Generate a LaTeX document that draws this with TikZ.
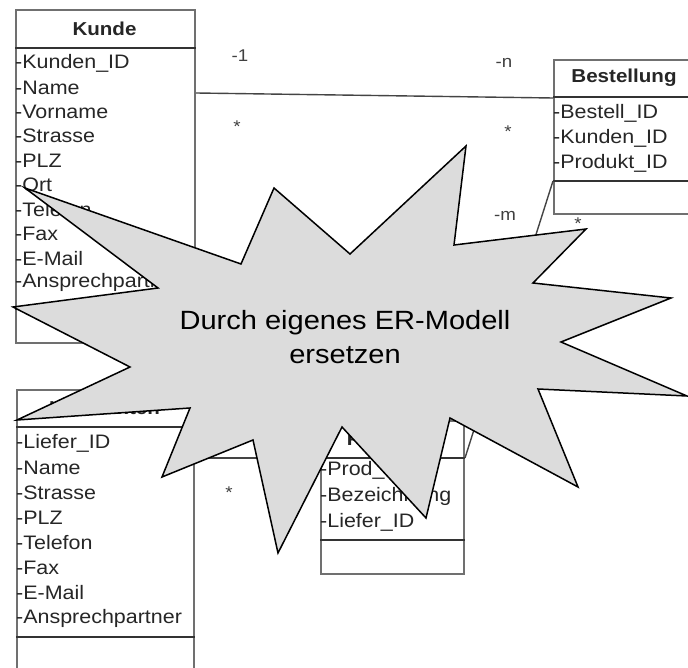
\documentclass[tikz,border=0pt]{standalone}
\usepackage{fontspec}
\setmainfont{Liberation Sans}[FakeStretch=1.1]
\definecolor{boxgray}{HTML}{707070}
\definecolor{sepgray}{HTML}{333333}
\definecolor{txtgray}{HTML}{262626}
\definecolor{multgray}{HTML}{404040}
\definecolor{conngray}{HTML}{444444}
\definecolor{burstfill}{HTML}{DCDCDC}
\begin{document}
\begin{tikzpicture}[x=1pt,y=-1pt,
  box/.style={draw=boxgray, line width=2pt, inner sep=0, anchor=north west},
  sepline/.style={draw=sepgray, line width=1.4pt},
  attr/.style={anchor=west, inner sep=0, text=txtgray, font=\fontsize{19.5}{19.5}\selectfont},
  ctitle/.style={inner sep=0, text=txtgray, font=\fontsize{18.7}{18.7}\selectfont\bfseries},
  mult/.style={inner sep=0, text=multgray, font=\fontsize{17}{17}\selectfont},
  conn/.style={draw=conngray, line width=1.4pt},
  burst/.style={draw=black, line width=1.5pt, fill=burstfill, line join=miter},
  bursttext/.style={inner sep=0, anchor=base, text=black, font=\fontsize{26.4}{33}\selectfont},
]
\useasboundingbox (0,0) rectangle (688,668);
\fill[white] (0,0) rectangle (688,668);
\clip (0,0) rectangle (688,668);

% Kunde
\node[box, minimum width=179pt, minimum height=333pt] (kunde) at (15,9) {};
\draw[sepline] (kunde.west |- 0,48) -- (kunde.east |- 0,48);
\draw[sepline] (kunde.west |- 0,309) -- (kunde.east |- 0,309);
\node[ctitle] (kundeT) at (104.5,28.5) {Kunde};
\foreach \t [count=\i from 0] in {Kunden\_ID,Name,Vorname,Strasse,PLZ,Ort,Telefon,Fax,E-Mail,Ansprechpartner}
  \node[attr] (ka\i) at (15,{63+24.4*\i}) {-\t};

% Bestellung
\node[box, minimum width=142pt, minimum height=154pt] (best) at (553,59) {};
\draw[sepline] (best.west |- 0,97) -- (best.east |- 0,97);
\draw[sepline] (best.west |- 0,181) -- (best.east |- 0,181);
\node[ctitle] (bestT) at (624,78) {Bestellung};
\foreach \t [count=\i from 0] in {Bestell\_ID,Kunden\_ID,Produkt\_ID}
  \node[attr] (ba\i) at (553,{113+25*\i}) {-\t};

% Lieferanten
\node[box, minimum width=177pt, minimum height=320pt] (lief) at (16,389) {};
\draw[sepline] (lief.west |- 0,427) -- (lief.east |- 0,427);
\draw[sepline] (lief.west |- 0,637) -- (lief.east |- 0,637);
\node[ctitle] (liefT) at (104.5,408) {Lieferanten};
\foreach \t [count=\i from 0] in {Liefer\_ID,Name,Strasse,PLZ,Telefon,Fax,E-Mail,Ansprechpartner}
  \node[attr] (la\i) at (16,{443+25*\i}) {-\t};

% Produkte
\node[box, minimum width=143pt, minimum height=153pt] (prod) at (320,420) {};
\draw[sepline] (prod.west |- 0,458) -- (prod.east |- 0,458);
\draw[sepline] (prod.west |- 0,540) -- (prod.east |- 0,540);
\node[ctitle] (prodT) at (391.5,439) {Produkte};
\foreach \t [count=\i from 0] in {Prod\_ID,Bezeichnung,Liefer\_ID}
  \node[attr] (pa\i) at (320,{470+26*\i}) {-\t};

% connectors
\coordinate (kb1) at (kunde.east |- 0,93);
\coordinate (kb2) at (best.west |- 0,98);
\draw[conn] (kb1) -- (kb2);
\coordinate (bp1) at (best.west |- 0,181);
\coordinate (bp2) at (prod.east |- 0,458);
\draw[conn] (bp1) -- (bp2);
\coordinate (lp1) at (lief.east |- 0,458);
\coordinate (lp2) at (prod.west |- 0,458);
\draw[conn] (lp1) -- (lp2);

% multiplicities
\node[mult] (m1) at (240,56) {-1};
\node[mult] (m2) at (237,126.5) {*};
\node[mult] (m3) at (504,63) {-n};
\node[mult] (m4) at (508,131.5) {*};
\node[mult] (m5) at (505,216) {-m};
\node[mult] (m6) at (578,223.5) {*};
\node[mult] (m7) at (229,492.5) {*};

% starburst
\draw[burst] (25,188) -- (241,264) -- (274,188) -- (350,254) -- (466,146) -- (454,245)
  -- (586,229) -- (533,283) -- (671,298) -- (561,342) -- (687,396) -- (538,389)
  -- (578,487) -- (450,418) -- (426,518) -- (342,427) -- (278,553) -- (253,440)
  -- (162,477) -- (190,408) -- (17,420) -- (130,367) -- (13,307) -- (158,288) -- cycle;
\node[bursttext] (burst1) at (345,330) {Durch eigenes ER-Modell};
\node[bursttext] (burst2) at (345,363) {ersetzen};
\end{tikzpicture}
\end{document}
